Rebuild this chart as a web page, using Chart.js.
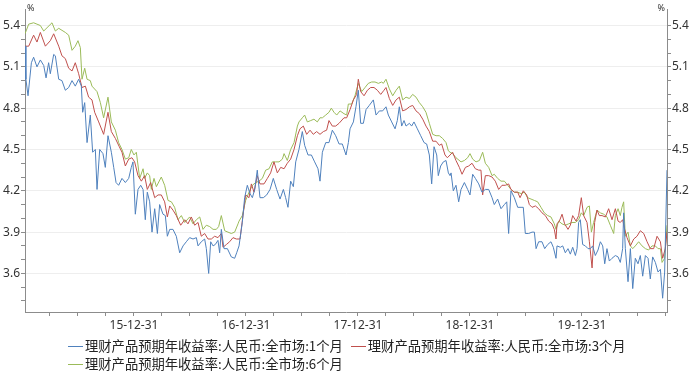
<!DOCTYPE html>
<html>
<head>
<meta charset="utf-8">
<script src="https://cdn.jsdelivr.net/npm/chart.js@4.4.0/dist/chart.umd.min.js"></script>
<style>
  html, body { margin: 0; padding: 0; background: #fff; }
  #wrap { position: relative; width: 693px; height: 376px; }
  #legend {
    position: absolute; left: 68px; top: 337px; width: 575px;
    display: flex; flex-wrap: wrap;
    font-family: "Noto Sans CJK SC", sans-serif; font-size: 13.3px; line-height: 18px; color: #222;
  }
  .item { display: inline-flex; align-items: center; margin-right: 8px; white-space: nowrap; }
  .swatch { display: inline-block; width: 15px; height: 1px; margin-right: 2px; }
</style>
</head>
<body>
<div id="wrap">
  <canvas id="chart" width="693" height="376"></canvas>
  <div id="legend"></div>
</div>
<script>
// ==================== DATOS ====================
// x = fecha en años decimales, y = rendimiento (%)
const seriesNames = [
  '理财产品预期年收益率:人民币:全市场:1个月',
  '理财产品预期年收益率:人民币:全市场:3个月',
  '理财产品预期年收益率:人民币:全市场:6个月'
];
const seriesColors = ['#4f81bd', '#c0504d', '#9bbb59'];

const m1X = [2015.027,2015.035,2015.054,2015.084,2015.104,2015.134,2015.164,2015.194,2015.215,2015.238,2015.253,2015.283,2015.298,2015.328,2015.357,2015.387,2015.417,2015.447,2015.476,2015.506,2015.530,2015.542,2015.560,2015.581,2015.610,2015.631,2015.655,2015.670,2015.694,2015.723,2015.744,2015.768,2015.798,2015.819,2015.840,2015.863,2015.893,2015.923,2015.953,2015.976,
  2015.991,2016.012,2016.036,2016.060,2016.081,2016.101,2016.119,2016.140,2016.161,2016.185,2016.209,2016.229,2016.259,2016.280,2016.298,2016.319,2016.348,2016.378,2016.408,2016.438,2016.467,2016.497,2016.527,2016.557,2016.572,2016.601,2016.631,2016.646,2016.667,2016.685,2016.706,2016.726,2016.750,2016.765,2016.780,2016.804,2016.834,2016.869,2016.899,
  2016.917,2016.938,2016.967,2016.988,2017.012,2017.036,2017.057,2017.078,2017.101,2017.125,2017.155,2017.185,2017.215,2017.244,2017.274,2017.304,2017.334,2017.354,2017.375,2017.399,2017.423,2017.444,2017.473,2017.503,2017.524,2017.554,2017.584,2017.613,2017.643,2017.661,2017.682,2017.712,2017.741,2017.771,2017.801,2017.831,2017.860,
  2017.893,2017.914,2017.929,2017.959,2017.982,2018.003,2018.024,2018.048,2018.072,2018.101,2018.137,2018.161,2018.191,2018.220,2018.250,2018.271,2018.301,2018.331,2018.351,2018.369,2018.390,2018.411,2018.429,2018.459,2018.479,2018.500,2018.530,2018.560,2018.590,2018.613,2018.637,2018.658,2018.679,2018.703,2018.717,2018.738,2018.762,2018.786,2018.807,2018.822,
  2018.831,2018.851,2018.875,2018.899,2018.920,2018.950,2018.979,2019.000,2019.024,2019.048,2019.078,2019.107,2019.137,2019.167,2019.197,2019.217,2019.247,2019.277,2019.307,2019.328,2019.345,2019.366,2019.396,2019.426,2019.456,2019.476,2019.494,2019.524,2019.554,2019.575,2019.590,2019.613,2019.643,2019.667,2019.694,2019.723,2019.744,2019.768,
  2019.777,2019.807,2019.828,2019.851,2019.875,2019.896,2019.917,2019.941,2019.956,2019.970,2019.985,2020.006,2020.030,2020.054,2020.075,2020.095,2020.119,2020.143,2020.164,2020.185,2020.203,2020.223,2020.244,2020.268,2020.298,2020.322,2020.342,2020.363,2020.372,2020.387,2020.411,2020.432,2020.453,2020.476,2020.500,2020.521,2020.542,2020.566,2020.590,2020.610,2020.631,2020.655,2020.679,2020.700,2020.720,2020.738,2020.759];
const m1Y = [5.25,5.01,4.89,5.13,5.17,5.10,5.15,5.11,5.02,5.13,5.05,5.19,5.18,5.01,5.00,4.93,4.95,5.00,4.96,5.01,4.96,4.77,4.84,4.55,4.75,4.48,4.50,4.21,4.50,4.47,4.37,4.60,4.48,4.37,4.26,4.24,4.29,4.26,4.29,4.37,
  4.41,4.03,4.21,4.24,4.21,3.99,4.19,4.12,3.90,4.07,3.89,4.10,4.03,4.02,3.87,3.92,3.92,3.87,3.75,3.80,3.83,3.86,3.85,3.86,3.80,3.83,3.85,3.78,3.60,3.83,3.80,3.81,3.84,3.75,3.92,3.78,3.78,3.72,3.71,
  3.75,3.80,3.97,4.15,4.24,4.18,4.15,4.21,4.35,4.15,4.15,4.17,4.21,4.29,4.21,4.14,4.21,4.15,4.08,4.27,4.23,4.41,4.50,4.63,4.53,4.46,4.46,4.41,4.36,4.27,4.48,4.55,4.55,4.64,4.60,4.54,4.54,
  4.46,4.55,4.65,4.70,4.81,4.93,4.69,4.69,4.79,4.82,4.86,4.75,4.78,4.78,4.81,4.75,4.70,4.65,4.71,4.81,4.67,4.71,4.67,4.69,4.67,4.70,4.65,4.60,4.55,4.54,4.46,4.25,4.52,4.46,4.31,4.38,4.41,4.42,4.33,4.31,
  4.33,4.20,4.24,4.12,4.21,4.26,4.21,4.17,4.32,4.29,4.25,4.19,4.21,4.21,4.15,4.10,4.14,4.07,4.10,4.12,3.89,4.20,4.15,4.08,4.08,4.08,3.89,3.89,3.90,3.90,3.78,3.83,3.83,3.78,3.81,3.83,3.79,3.71,
  3.80,3.79,3.80,3.75,3.78,3.74,3.79,3.73,3.78,3.97,3.99,3.81,3.80,3.78,3.78,3.80,3.73,3.77,3.83,3.80,3.67,3.78,3.69,3.71,3.73,3.72,3.68,3.78,4.04,3.78,3.54,3.78,3.49,3.71,3.67,3.73,3.58,3.73,3.71,3.56,3.72,3.68,3.61,3.63,3.42,3.61,4.35];

const m3X = [2015.027,2015.060,2015.104,2015.134,2015.164,2015.209,2015.253,2015.283,2015.328,2015.357,2015.387,2015.417,2015.447,2015.476,2015.506,2015.536,2015.566,2015.595,2015.625,2015.649,2015.685,2015.729,2015.768,2015.798,2015.834,2015.869,2015.893,2015.923,2015.953,2015.982,
  2016.006,2016.036,2016.066,2016.095,2016.119,2016.149,2016.185,2016.215,2016.244,2016.274,2016.298,2016.319,2016.348,2016.378,2016.417,2016.453,2016.482,2016.512,2016.542,2016.572,2016.601,2016.631,2016.661,2016.691,2016.720,2016.750,2016.780,2016.795,2016.825,2016.854,2016.884,2016.914,
  2016.947,2016.967,2016.997,2017.027,2017.048,2017.072,2017.101,2017.125,2017.161,2017.191,2017.220,2017.250,2017.280,2017.310,2017.340,2017.369,2017.399,2017.429,2017.459,2017.482,2017.512,2017.542,2017.572,2017.601,2017.631,2017.661,2017.691,2017.720,2017.741,2017.771,2017.801,2017.831,2017.875,
  2017.899,2017.929,2017.959,2017.988,2018.003,2018.024,2018.054,2018.084,2018.113,2018.143,2018.173,2018.203,2018.232,2018.250,2018.280,2018.310,2018.340,2018.369,2018.399,2018.429,2018.459,2018.488,2018.518,2018.548,2018.578,2018.607,2018.637,2018.667,2018.697,2018.726,2018.747,2018.777,2018.798,2018.822,
  2018.845,2018.875,2018.905,2018.929,2018.959,2018.988,2019.018,2019.048,2019.078,2019.098,2019.113,2019.137,2019.167,2019.197,2019.226,2019.256,2019.286,2019.316,2019.345,2019.366,2019.396,2019.426,2019.447,2019.476,2019.506,2019.530,2019.554,2019.584,2019.613,2019.643,2019.673,2019.703,2019.732,2019.753,2019.768,
  2019.777,2019.798,2019.822,2019.845,2019.875,2019.896,2019.917,2019.947,2019.970,2019.994,2020.015,2020.045,2020.066,2020.090,2020.113,2020.134,2020.155,2020.179,2020.209,2020.238,2020.268,2020.298,2020.322,2020.342,2020.363,2020.381,2020.402,2020.432,2020.462,2020.491,2020.521,2020.551,2020.581,2020.610,2020.640,2020.670,2020.700,2020.720,2020.744,2020.759];
const m3Y = [5.25,5.25,5.33,5.28,5.35,5.25,5.29,5.34,5.25,5.18,5.16,5.09,5.07,5.13,5.05,4.95,4.96,4.88,4.86,4.77,4.70,4.61,4.77,4.63,4.58,4.52,4.48,4.38,4.43,4.44,
  4.41,4.31,4.27,4.31,4.21,4.26,4.15,4.17,4.17,4.12,4.01,4.09,4.06,4.02,3.95,3.99,3.96,4.01,3.95,3.97,3.87,3.89,3.85,3.85,3.87,3.86,3.89,3.79,3.81,3.83,3.86,3.85,
  3.85,3.98,4.17,4.15,4.25,4.19,4.31,4.25,4.25,4.29,4.33,4.41,4.33,4.37,4.36,4.40,4.43,4.50,4.60,4.65,4.67,4.61,4.64,4.61,4.63,4.61,4.63,4.64,4.71,4.67,4.67,4.69,4.73,
  4.73,4.79,4.86,4.90,5.01,4.92,4.89,4.93,4.95,4.95,4.93,4.90,4.93,4.95,4.87,4.82,4.86,4.88,4.78,4.79,4.81,4.82,4.78,4.76,4.72,4.67,4.63,4.56,4.56,4.53,4.54,4.46,4.44,4.46,
  4.48,4.42,4.37,4.32,4.37,4.38,4.40,4.36,4.35,4.35,4.17,4.31,4.31,4.30,4.27,4.21,4.24,4.24,4.25,4.21,4.19,4.19,4.15,4.20,4.17,4.10,4.08,4.09,4.07,4.04,4.02,3.98,3.96,3.92,3.85,
  3.96,3.98,4.03,3.96,3.92,3.95,4.02,3.98,4.02,4.15,4.02,3.97,3.83,3.64,3.97,4.06,4.02,4.02,4.01,4.07,3.99,4.07,3.98,3.97,3.99,3.92,3.86,3.80,3.85,3.87,3.91,3.89,3.83,3.78,3.78,3.87,3.83,3.71,3.78,3.90];

const m6X = [2015.027,2015.060,2015.104,2015.134,2015.164,2015.194,2015.268,2015.298,2015.328,2015.387,2015.417,2015.447,2015.476,2015.500,2015.521,2015.536,2015.560,2015.581,2015.610,2015.625,2015.670,2015.700,2015.729,2015.768,2015.798,2015.834,2015.863,2015.893,2015.923,2015.953,2015.976,
  2016.000,2016.021,2016.051,2016.081,2016.095,2016.119,2016.140,2016.155,2016.179,2016.200,2016.244,2016.274,2016.304,2016.334,2016.363,2016.393,2016.423,2016.453,2016.497,2016.527,2016.557,2016.587,2016.616,2016.646,2016.676,2016.706,2016.735,2016.756,2016.780,2016.810,2016.839,2016.869,2016.899,2016.929,
  2016.938,2016.967,2016.997,2017.027,2017.057,2017.087,2017.116,2017.146,2017.176,2017.206,2017.235,2017.265,2017.295,2017.325,2017.340,2017.369,2017.399,2017.429,2017.459,2017.473,2017.503,2017.524,2017.548,2017.578,2017.607,2017.637,2017.661,2017.682,2017.712,2017.741,2017.762,2017.786,2017.810,2017.840,2017.875,
  2017.899,2017.914,2017.944,2017.973,2018.003,2018.033,2018.063,2018.092,2018.122,2018.152,2018.182,2018.212,2018.226,2018.250,2018.280,2018.310,2018.340,2018.369,2018.399,2018.429,2018.459,2018.488,2018.518,2018.548,2018.578,2018.607,2018.637,2018.667,2018.697,2018.726,2018.756,2018.786,2018.807,2018.822,
  2018.845,2018.875,2018.920,2018.950,2018.979,2019.000,2019.024,2019.054,2019.084,2019.113,2019.137,2019.167,2019.197,2019.217,2019.247,2019.277,2019.307,2019.337,2019.366,2019.396,2019.426,2019.456,2019.485,2019.515,2019.545,2019.575,2019.604,2019.634,2019.664,2019.694,2019.723,2019.753,2019.768,
  2019.792,2019.822,2019.851,2019.881,2019.911,2019.941,2019.970,2019.994,2020.015,2020.045,2020.066,2020.084,2020.104,2020.134,2020.164,2020.194,2020.223,2020.253,2020.283,2020.298,2020.322,2020.342,2020.357,2020.372,2020.387,2020.411,2020.432,2020.453,2020.476,2020.506,2020.536,2020.566,2020.595,2020.625,2020.655,2020.679,2020.700,2020.715,2020.738,2020.759];
const m6Y = [5.34,5.41,5.42,5.41,5.40,5.36,5.42,5.36,5.38,5.35,5.33,5.22,5.25,5.29,5.24,5.01,5.09,5.01,5.00,4.96,4.92,4.84,4.73,4.88,4.70,4.64,4.55,4.50,4.43,4.44,4.50,
  4.46,4.48,4.29,4.36,4.29,4.33,4.31,4.21,4.29,4.23,4.30,4.24,4.13,4.12,4.08,3.99,4.02,3.97,4.01,3.96,3.99,4.01,3.92,3.95,3.94,3.92,3.92,3.94,4.02,3.91,3.90,3.89,3.90,3.96,
  3.98,4.02,4.13,4.19,4.24,4.26,4.27,4.29,4.35,4.36,4.41,4.41,4.41,4.43,4.47,4.42,4.50,4.55,4.67,4.70,4.73,4.75,4.70,4.71,4.72,4.70,4.73,4.73,4.75,4.77,4.80,4.77,4.75,4.78,4.76,
  4.75,4.83,4.83,4.89,4.98,4.92,4.95,4.98,4.99,4.99,4.98,4.99,4.98,5.01,4.94,4.89,4.93,4.96,4.86,4.88,4.87,4.90,4.88,4.84,4.81,4.77,4.69,4.61,4.60,4.60,4.58,4.55,4.49,4.48,
  4.47,4.44,4.41,4.42,4.44,4.47,4.43,4.41,4.42,4.48,4.40,4.37,4.31,4.32,4.29,4.27,4.27,4.24,4.21,4.19,4.19,4.18,4.19,4.15,4.14,4.13,4.12,4.08,4.04,4.02,4.01,3.96,3.92,
  3.98,3.96,3.95,3.96,3.97,3.97,3.99,4.04,4.02,4.08,4.09,3.90,3.97,4.06,4.04,4.03,4.01,3.95,3.89,4.02,4.07,4.02,4.08,4.12,3.87,3.90,3.80,3.78,3.80,3.83,3.80,3.78,3.77,3.80,3.80,3.78,3.78,3.68,3.71,3.95];

// ejes
const xMin = 2015.027, xMax = 2020.759;
const yMin = 3.32, yMax = 5.52;
const yMinorTicks = [3.4,3.5,3.6,3.7,3.8,3.9,4.0,4.1,4.2,4.3,4.4,4.5,4.6,4.7,4.8,4.9,5.0,5.1,5.2,5.3,5.4];
const xQuarterTicks = [2015.25,2015.5,2015.75,2016,2016.25,2016.5,2016.75,2017,2017.25,2017.5,2017.75,2018,2018.25,2018.5,2018.75,2019,2019.25,2019.5,2019.75,2020,2020.25,2020.5,2020.75];

// ==================== GRÁFICO ====================
const AXIS = '#8c8c8c';
const TXT = '#333';
const FONT = { family: '"Noto Sans", "DejaVu Sans", sans-serif', size: 12 };

function toPoints(xs, ys) {
  return xs.map((x, i) => ({ x, y: ys[i] }));
}

const isMajorY = v => Math.round(v * 10) % 3 === 0;

const percentPlugin = {
  id: 'percent',
  afterDraw(chart) {
    const ctx = chart.ctx;
    const a = chart.chartArea;
    ctx.save();
    ctx.fillStyle = TXT;
    ctx.font = '9px "Noto Sans", sans-serif';
    ctx.textBaseline = 'top';
    ctx.textAlign = 'left';
    ctx.fillText('%', a.left + 2, 4);
    ctx.textAlign = 'right';
    ctx.fillText('%', a.right - 2, 4);
    ctx.restore();
  }
};

const datasets = [[m1X, m1Y], [m3X, m3Y], [m6X, m6Y]].map((s, i) => ({
  label: seriesNames[i],
  data: toPoints(s[0], s[1]),
  borderColor: seriesColors[i],
  borderWidth: 1,
  pointRadius: 0,
  tension: 0,
  yAxisID: 'y'
}));

const yTickOpts = {
  autoSkip: false, padding: 1, color: TXT, font: FONT,
  callback: v => isMajorY(v) ? v.toFixed(1) : ''
};

new Chart(document.getElementById('chart'), {
  type: 'line',
  data: { datasets },
  options: {
    responsive: false,
    animation: false,
    layout: { padding: { top: 9, left: 0, right: 0, bottom: 0 } },
    plugins: { legend: { display: false }, tooltip: { enabled: false } },
    scales: {
      x: {
        type: 'linear',
        min: xMin, max: xMax,
        afterBuildTicks: s => { s.ticks = xQuarterTicks.map(v => ({ value: v })); },
        afterFit: s => { s.height = 64; },
        border: { color: AXIS },
        grid: { drawOnChartArea: false, tickLength: 4, tickColor: AXIS },
        ticks: {
          autoSkip: false, maxRotation: 0, padding: 2, color: TXT, font: FONT,
          callback: v => Math.abs(v - Math.round(v)) < 1e-6 ? String((Math.round(v) - 1) % 100) + '-12-31' : ''
        }
      },
      y: {
        position: 'left',
        min: yMin, max: yMax,
        afterBuildTicks: s => { s.ticks = yMinorTicks.map(v => ({ value: v })); },
        afterFit: s => { s.width = 25; },
        border: { color: AXIS },
        grid: {
          tickLength: 4,
          color: c => (c.tick && isMajorY(c.tick.value)) ? '#eeeeee' : 'rgba(0,0,0,0)',
          tickColor: AXIS
        },
        ticks: yTickOpts
      },
      y2: {
        position: 'right',
        min: yMin, max: yMax,
        afterBuildTicks: s => { s.ticks = yMinorTicks.map(v => ({ value: v })); },
        afterFit: s => { s.width = 26; },
        border: { color: AXIS },
        grid: { drawOnChartArea: false, tickLength: 4, tickColor: AXIS },
        ticks: yTickOpts
      }
    }
  },
  plugins: [percentPlugin]
});

// ==================== LEYENDA ====================
document.getElementById('legend').innerHTML = seriesNames.map((n, i) =>
  `<span class="item"><span class="swatch" style="background:${seriesColors[i]}"></span>${n}</span>`
).join('');
</script>
</body>
</html>
